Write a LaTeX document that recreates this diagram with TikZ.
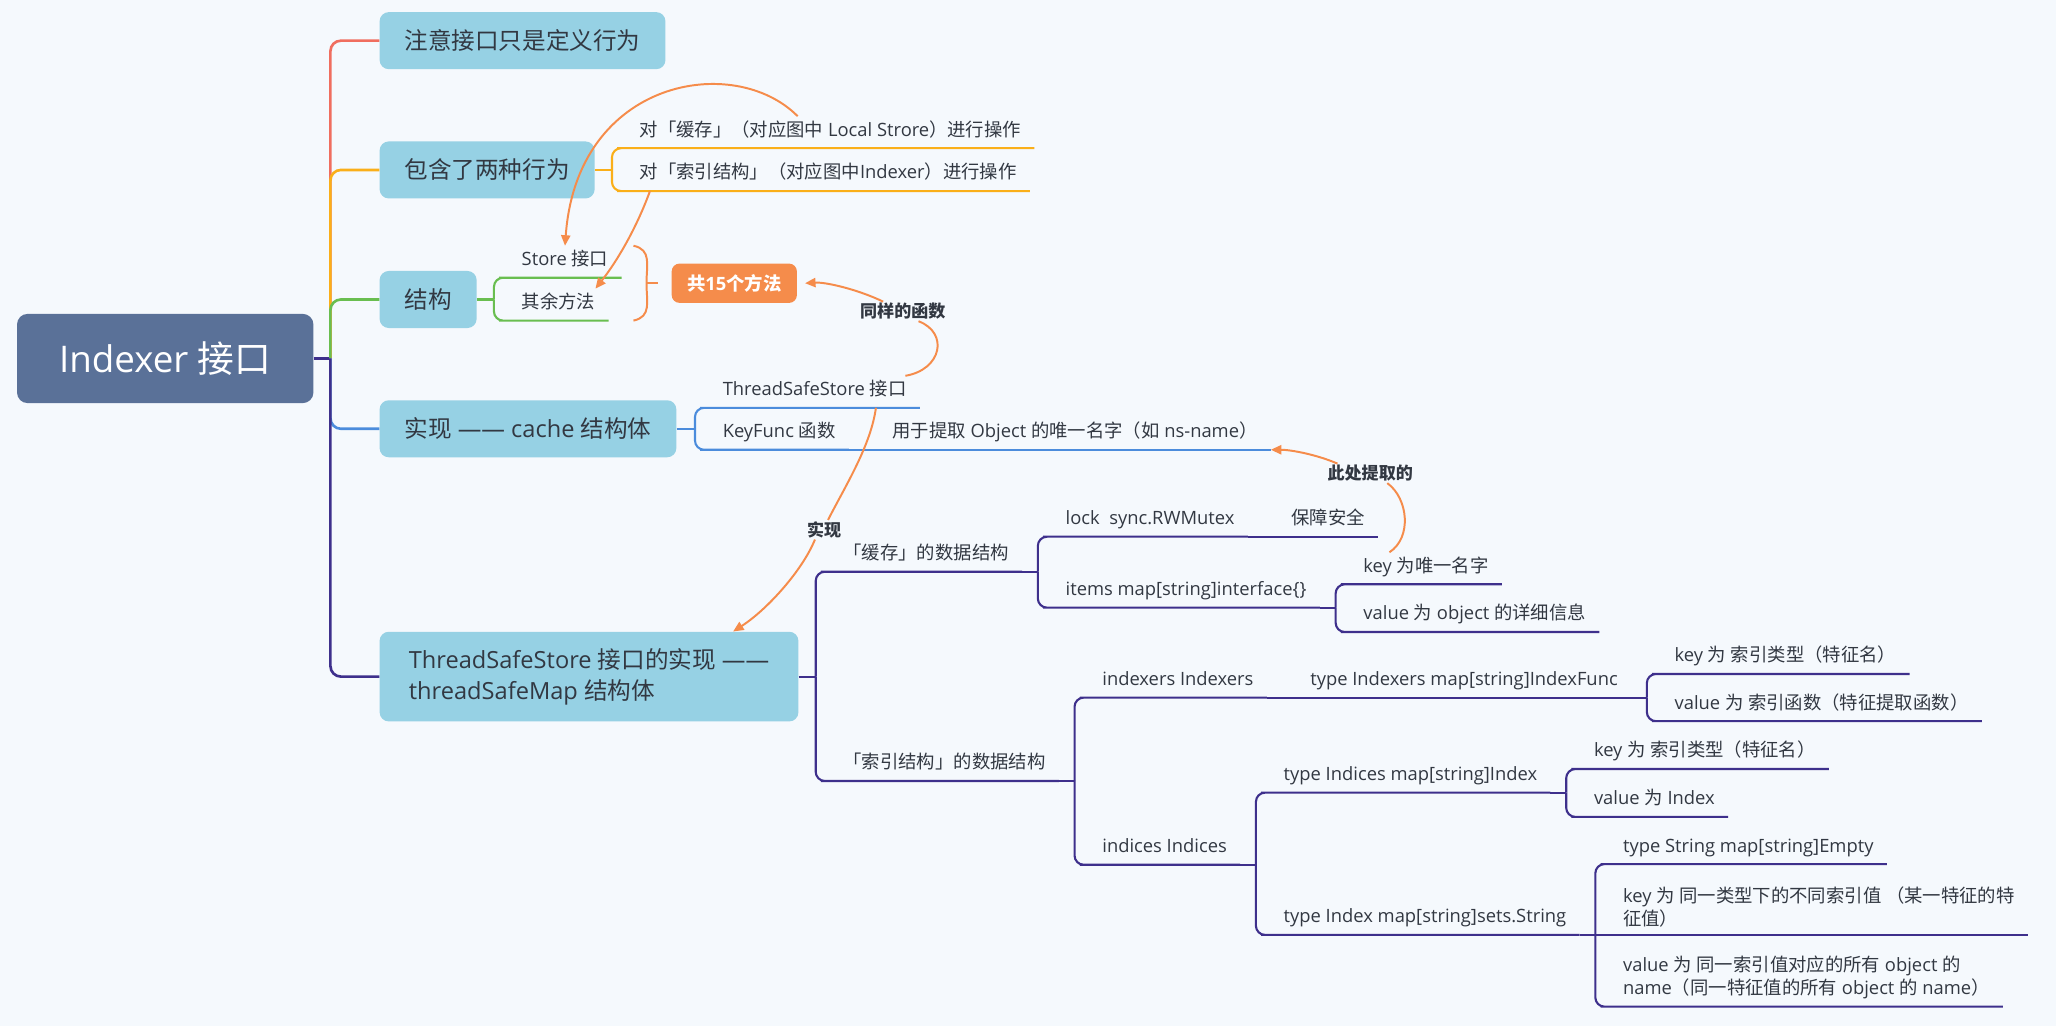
\documentclass[tikz,border=0pt]{standalone}
\usepackage{fontspec}
\setmainfont{Open Sans}
\newfontfamily\cjkfont{Noto Sans CJK SC}
% CJK-Zeichen automatisch in Noto setzen
\XeTeXinterchartokenstate=1
\newXeTeXintercharclass\cjkclass
\newcount\cjkcode
\cjkcode="3000
\loop
  \XeTeXcharclass\cjkcode=\cjkclass
  \ifnum\cjkcode<"9FFF \advance\cjkcode by 1
\repeat
\cjkcode="FF00
\loop
  \XeTeXcharclass\cjkcode=\cjkclass
  \ifnum\cjkcode<"FFEF \advance\cjkcode by 1
\repeat
\XeTeXinterchartoks 0 \cjkclass = {\begingroup\cjkfont}
\XeTeXinterchartoks 4095 \cjkclass = {\begingroup\cjkfont}
\XeTeXinterchartoks \cjkclass 0 = {\endgroup}
\XeTeXinterchartoks \cjkclass 4095 = {\endgroup}

\usepackage{xcolor}
\definecolor{hintergrund}{RGB}{245,249,253}
\definecolor{wurzelblau}{RGB}{90,113,152}
\definecolor{themablau}{RGB}{150,209,228}
\definecolor{tinte}{RGB}{50,56,66}
\definecolor{rot}{RGB}{240,110,95}
\definecolor{gelb}{RGB}{250,175,25}
\definecolor{gruen}{RGB}{105,190,80}
\definecolor{blau}{RGB}{75,140,220}
\definecolor{indigo}{RGB}{62,48,140}
\definecolor{akzent}{RGB}{245,140,75}
\usepackage{tikz}
\usetikzlibrary{arrows.meta}
\tikzstyle{wurzel} = [
    fill=wurzelblau,
    text=white,
    rounded corners=8pt,
    minimum width=226pt,
    minimum height=68pt,
    font=\fontsize{28}{34}\selectfont
]
\tikzstyle{thema} = [
    fill=themablau,
    text=tinte,
    rounded corners=7pt,
    anchor=west,
    inner xsep=19pt,
    minimum height=43.5pt,
    font=\fontsize{18}{24}\selectfont
]
\tikzstyle{blattbasis} = [
    text=tinte,
    anchor=south west,
    xshift=11pt,
    inner xsep=10pt,
    font=\fontsize{14}{17.5}\selectfont
]
\tikzstyle{blatt} = [blattbasis, inner ysep=4pt, text height=11pt, text depth=5pt]
\tikzstyle{blattzwei} = [blattbasis, inner ysep=6pt, align=left]
\tikzstyle{summe} = [
    fill=akzent,
    text=white,
    rounded corners=6pt,
    minimum width=95.5pt,
    minimum height=30pt,
    inner sep=0pt,
    font=\bfseries\fontsize{14}{17}\selectfont
]
\tikzstyle{notiz} = [
    text=tinte,
    inner sep=1pt,
    font=\bfseries\fontsize{13}{15}\selectfont
]
\tikzstyle{ast} = [line width=2pt, rounded corners=8pt]
\tikzstyle{zweig} = [line width=1.6pt, rounded corners=7pt]
\tikzstyle{bezug} = [draw=akzent, line width=1.5pt]
\tikzstyle{bezugpfeil} = [
    bezug,
    -{Triangle[length=8pt, width=7pt]}
]

% Gabelpunkt hinter einem Blatt
\newcommand{\gabel}[3]{
    \coordinate (#3) at ([xshift=12pt]#2.south east);
    \draw[zweig, #1] (#2.south east) -- (#3);
}
% Linie vom Gabelpunkt unter das Kind
\newcommand{\kante}[3]{
    \draw[zweig, #1] (#2) |- (#3.south west) -- (#3.south east);
}
% gerade weiter (Kind auf gleicher Hoehe)
\newcommand{\weiter}[3]{
    \draw[zweig, #1] (#2) -- (#3.south west) -- (#3.south east);
}

\begin{document}
\begin{tikzpicture}[x=1pt, y=-1pt]

% Hintergrund
\fill[hintergrund] (0,0) rectangle (1568,782.5);
\useasboundingbox (0,0) rectangle (1568,782.5);

% Wurzel und Hauptthemen
\node[wurzel] (idx) at (126,273.4) {Indexer 接口};
\coordinate (hub) at (252,273.4);
\node[thema] (note)   at (289.3,31)    {注意接口只是定义行为};
\node[thema] (two)    at (289.3,129.6) {包含了两种行为};
\node[thema] (struct) at (289.3,228.4) {结构};
\node[thema] (cache)  at (289.3,327)   {实现 —— cache 结构体};
\node[thema, align=left, minimum height=68.4pt, minimum width=319.4pt] (tsmap) at (289.3,516)
    {ThreadSafeStore 接口的实现 ——\\threadSafeMap 结构体};

% Hauptaeste
\draw[ast, indigo] (idx.east) -- (hub);
\draw[ast, rot]    (hub) |- (note.west);
\draw[ast, gelb]   (hub) |- (two.west);
\draw[ast, gruen]  (hub) |- (struct.west);
\draw[ast, blau]   (hub) |- (cache.west);
\draw[ast, indigo] (hub) |- (tsmap.west);

% zwei Verhaltensarten
\coordinate (twoB) at ([xshift=13pt]two.east);
\draw[zweig, gelb] (two.east) -- (twoB);
\node[blatt] (opcache) at (twoB |- 0,113)   {对「缓存」（对应图中 Local Strore）进行操作};
\node[blatt] (opindex) at (twoB |- 0,145.7) {对「索引结构」（对应图中Indexer）进行操作};
\kante{gelb}{twoB}{opcache}
\kante{gelb}{twoB}{opindex}

% Struktur
\coordinate (structB) at ([xshift=13pt]struct.east);
\draw[zweig, gruen] (struct.east) -- (structB);
\node[blatt] (storeif) at (structB |- 0,211.8) {Store 接口};
\node[blatt] (others)  at (structB |- 0,244.5) {其余方法};
\kante{gruen}{structB}{storeif}
\kante{gruen}{structB}{others}
\node[summe] (m15) at (560,216) {共15个方法};

% cache
\coordinate (cacheB) at ([xshift=14pt]cache.east);
\draw[zweig, blau] (cache.east) -- (cacheB);
\node[blatt] (tssif)   at (cacheB |- 0,311) {ThreadSafeStore 接口};
\node[blatt] (keyfunc) at (cacheB |- 0,343) {KeyFunc 函数};
\kante{blau}{cacheB}{tssif}
\kante{blau}{cacheB}{keyfunc}
\gabel{blau}{keyfunc}{keyfuncB}
\node[blatt] (keydesc) at (keyfuncB |- 0,343) {用于提取 Object 的唯一名字（如 ns-name）};
\weiter{blau}{keyfuncB}{keydesc}

% threadSafeMap
\coordinate (tsmapB) at ([xshift=13pt]tsmap.east);
\draw[zweig, indigo] (tsmap.east) -- (tsmapB);
\node[blatt] (cachedata) at (tsmapB |- 0,436)   {「缓存」的数据结构};
\node[blatt] (indexdata) at (tsmapB |- 0,595.6) {「索引结构」的数据结构};
\kante{indigo}{tsmapB}{cachedata}
\kante{indigo}{tsmapB}{indexdata}

\gabel{indigo}{cachedata}{cachedataB}
\node[blatt] (lock)  at (cachedataB |- 0,409.3) {lock\ \ sync.RWMutex};
\node[blatt] (items) at (cachedataB |- 0,463.4) {items map[string]interface\{\}};
\kante{indigo}{cachedataB}{lock}
\kante{indigo}{cachedataB}{items}
\gabel{indigo}{lock}{lockB}
\node[blatt] (safe) at (lockB |- 0,409.3) {保障安全};
\weiter{indigo}{lockB}{safe}
\gabel{indigo}{items}{itemsB}
\node[blatt] (keyname)   at (itemsB |- 0,445.6) {key 为唯一名字};
\node[blatt] (valdetail) at (itemsB |- 0,482)   {value 为 object 的详细信息};
\kante{indigo}{itemsB}{keyname}
\kante{indigo}{itemsB}{valdetail}

\gabel{indigo}{indexdata}{indexdataB}
\node[blatt] (indexers) at (indexdataB |- 0,532)   {indexers Indexers};
\node[blatt] (indices)  at (indexdataB |- 0,659.5) {indices Indices};
\kante{indigo}{indexdataB}{indexers}
\kante{indigo}{indexdataB}{indices}
\gabel{indigo}{indexers}{indexersB}
\node[blatt] (idxtype) at (indexersB |- 0,532) {type Indexers map[string]IndexFunc};
\weiter{indigo}{indexersB}{idxtype}
\gabel{indigo}{idxtype}{idxtypeB}
\node[blatt] (idxkey) at (idxtypeB |- 0,514) {key 为 索引类型（特征名）};
\node[blatt] (idxval) at (idxtypeB |- 0,550) {value 为 索引函数（特征提取函数）};
\kante{indigo}{idxtypeB}{idxkey}
\kante{indigo}{idxtypeB}{idxval}

\gabel{indigo}{indices}{indicesB}
\node[blatt] (indicestype) at (indicesB |- 0,604.5) {type Indices map[string]Index};
\node[blatt] (indextype)   at (indicesB |- 0,713)   {type Index map[string]sets.String};
\kante{indigo}{indicesB}{indicestype}
\kante{indigo}{indicesB}{indextype}
\gabel{indigo}{indicestype}{indicestypeB}
\node[blatt] (ikey) at (indicestypeB |- 0,586.5) {key 为 索引类型（特征名）};
\node[blatt] (ival) at (indicestypeB |- 0,623)   {value 为 Index};
\kante{indigo}{indicestypeB}{ikey}
\kante{indigo}{indicestypeB}{ival}
\gabel{indigo}{indextype}{indextypeB}
\node[blatt] (strtype) at (indextypeB |- 0,659) {type String map[string]Empty};
\node[blattzwei] (valkey) at (indextypeB |- 0,713)
    {key 为 同一类型下的不同索引值 （某一特征的特\\征值）};
\node[blattzwei] (valname) at (indextypeB |- 0,767.7)
    {value 为 同一索引值对应的所有 object 的\\name（同一特征值的所有 object 的 name）};
\kante{indigo}{indextypeB}{strtype}
\weiter{indigo}{indextypeB}{valkey}
\kante{indigo}{indextypeB}{valname}

% Klammer zur Zusammenfassung
\coordinate (klammerO) at ([xshift=9pt]storeif.north east);
\coordinate (klammerU) at (klammerO |- others.south);
\coordinate (klammerM) at ([xshift=-19pt]m15.west);
\draw[bezug] (klammerO) .. controls +(14,3) and +(0,-14) .. (klammerM)
    .. controls +(0,14) and +(14,-3) .. (klammerU);
\draw[bezug] (klammerM) -- ([xshift=-10pt]m15.west);

% Beziehungen
\draw[bezugpfeil] ([xshift=-25pt]opcache.north) .. controls (560,40) and (440,60) .. (storeif.north);
\draw[bezugpfeil] ([xshift=18pt]opindex.south west) .. controls (485,175) and (470,200) .. ([xshift=-10pt]others.north east);

\node[notiz] (samefn) at (688.5,237.5) {同样的函数};
\draw[bezug] ([xshift=-11pt]tssif.north east) .. controls (718,282) and (724,254) .. ([xshift=12pt]samefn.south);
\draw[bezugpfeil] ([xshift=-15pt]samefn.north) .. controls (655,221) and (630,215) .. ([xshift=6pt]m15.east);

\node[notiz] (impl) at (628.5,404) {实现};
\draw[bezug] ([xshift=127pt]tssif.south west) .. controls (664,340) and (645,370) .. ([xshift=3pt]impl.north);
\draw[bezugpfeil] ([xshift=-7pt]impl.south) .. controls (612,435) and (585,465) .. ([xshift=-50pt]tsmap.north east);

\node[notiz] (extract) at (1045,361) {此处提取的};
\draw[bezug] ([xshift=30pt]keyname.north west) .. controls (1077,410) and (1074,380) .. ([xshift=13pt]extract.south);
\draw[bezugpfeil] ([xshift=-25pt]extract.north) .. controls (1005,347) and (985,343) .. (keydesc.south east);

\end{tikzpicture}
\end{document}
